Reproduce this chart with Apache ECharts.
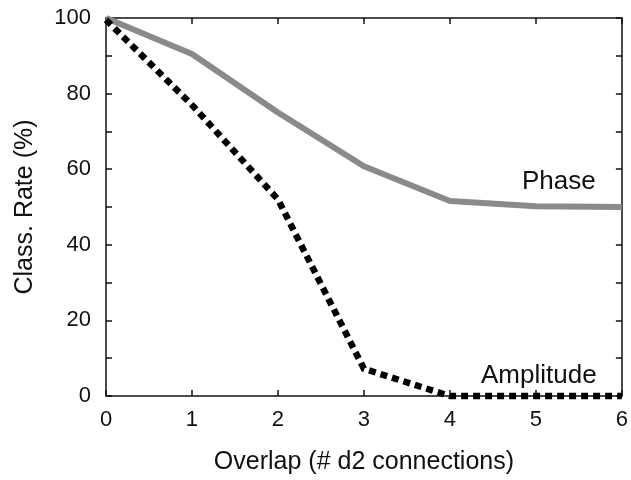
<!DOCTYPE html>
<html>
<head>
<meta charset="utf-8">
<script src="https://cdn.jsdelivr.net/npm/echarts@6/dist/echarts.min.js"></script>
<style>
  html, body { margin: 0; padding: 0; background: #fff; }
  #chart { width: 631px; height: 480px; }
</style>
</head>
<body>
<div id="chart"></div>
<script>
// Classification rate versus overlap (number of d2 connections)
const overlap = [0, 1, 2, 3, 4, 5, 6];
const phaseRate = [100, 90.5, 75, 60.8, 51.6, 50.2, 50];
const amplitudeRate = [99.5, 77, 52, 7.2, 0, 0, 0];
const yTicks = [0, 20, 40, 60, 80, 100];

const FONT = 'Liberation Sans, Arial, Helvetica, sans-serif';
const INK = '#111';

const chart = echarts.init(document.getElementById('chart'), null, { renderer: 'canvas' });

const axisLineStyle = { color: INK, width: 1.5 };
const tickStyle = { inside: true, length: 6, lineStyle: { color: INK, width: 1.5 } };

chart.setOption({
  animation: false,
  backgroundColor: '#fff',
  grid: { left: 106, right: 3, top: 18, bottom: 81, containLabel: false },
  xAxis: [
    {
      type: 'value', position: 'bottom', min: 0, max: 6, interval: 1,
      axisLine: { show: true, lineStyle: axisLineStyle },
      axisTick: tickStyle,
      splitLine: { show: false },
      axisLabel: { color: INK, fontFamily: FONT, fontSize: 22, margin: 13 },
      name: 'Overlap (# d2 connections)',
      nameLocation: 'middle', nameGap: 54,
      nameTextStyle: { color: INK, fontFamily: FONT, fontSize: 25 }
    },
    {
      type: 'value', position: 'top', min: 0, max: 6, interval: 1,
      axisLine: { show: true, onZero: false, lineStyle: axisLineStyle },
      axisTick: tickStyle,
      splitLine: { show: false },
      axisLabel: { show: false }
    }
  ],
  yAxis: [
    {
      type: 'value', position: 'left', min: 0, max: 100, interval: 10,
      axisLine: { show: true, lineStyle: axisLineStyle },
      axisTick: tickStyle,
      splitLine: { show: false },
      axisLabel: {
        color: INK, fontFamily: FONT, fontSize: 22, margin: 15,
        formatter: v => (yTicks.includes(v) ? String(v) : '')
      },
      name: 'Class. Rate (%)',
      nameLocation: 'middle', nameGap: 68, nameRotate: 90,
      nameTextStyle: { color: INK, fontFamily: FONT, fontSize: 25 }
    },
    {
      type: 'value', position: 'right', min: 0, max: 100, interval: 10,
      axisLine: { show: true, onZero: false, lineStyle: axisLineStyle },
      axisTick: tickStyle,
      splitLine: { show: false },
      axisLabel: { show: false }
    }
  ],
  series: [
    {
      name: 'Phase', type: 'line', xAxisIndex: 0, yAxisIndex: 0,
      data: overlap.map((x, i) => [x, phaseRate[i]]),
      showSymbol: false, clip: false,
      lineStyle: { color: '#8a8a8a', width: 6, join: 'round' },
      z: 3
    },
    {
      name: 'Amplitude', type: 'line', xAxisIndex: 0, yAxisIndex: 0,
      data: overlap.map((x, i) => [x, amplitudeRate[i]]),
      showSymbol: false, clip: false,
      lineStyle: { color: '#000', width: 6.5, type: [7, 5], cap: 'butt', join: 'miter' },
      z: 4
    }
  ],
  graphic: [
    {
      type: 'text', left: 522, top: 169, z: 10,
      style: { text: 'Phase', fill: INK, font: '26px ' + FONT }
    },
    {
      type: 'text', left: 481, top: 363, z: 10,
      style: { text: 'Amplitude', fill: INK, font: '26px ' + FONT }
    }
  ]
});
</script>
</body>
</html>
